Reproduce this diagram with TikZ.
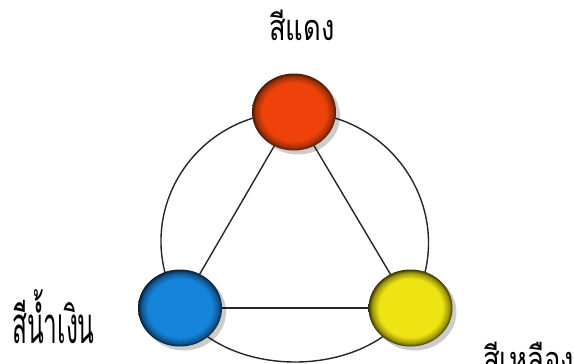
\documentclass[tikz,border=0pt]{standalone}
\usepackage{fontspec}
\usetikzlibrary{shapes.geometric}
\newfontfamily\thaifont[Script=Thai]{Loma}
\definecolor{redmain}{RGB}{238,66,10}
\definecolor{reddark}{RGB}{70,25,5}
\definecolor{bluemain}{RGB}{22,132,218}
\definecolor{bluedark}{RGB}{8,28,50}
\definecolor{yelmain}{RGB}{238,228,20}
\definecolor{yeldark}{RGB}{55,50,0}
\pgfdeclareradialshading{redball}{\pgfpoint{0bp}{0bp}}{color(0bp)=(redmain); color(19bp)=(redmain); color(23bp)=(redmain!55!reddark); color(25bp)=(reddark); color(50bp)=(reddark)}
\pgfdeclareradialshading{blueball}{\pgfpoint{0bp}{0bp}}{color(0bp)=(bluemain); color(19bp)=(bluemain); color(23bp)=(bluemain!55!bluedark); color(25bp)=(bluedark); color(50bp)=(bluedark)}
\pgfdeclareradialshading{yelball}{\pgfpoint{0bp}{0bp}}{color(0bp)=(yelmain); color(19bp)=(yelmain); color(23bp)=(yelmain!55!yeldark); color(25bp)=(yeldark); color(50bp)=(yeldark)}
\pgfdeclarelayer{background}
\pgfsetlayers{background,main}
\begin{document}
\begin{tikzpicture}[x=1pt,y=-1pt,
  link/.style={draw=black!85, line width=1.4pt},
  ball/.style={ellipse, inner sep=0pt, minimum width=84pt, minimum height=77pt,
    preaction={fill=black, fill opacity=0.2, transform canvas={shift={(4pt,-4pt)}}}},
  label/.style={inner sep=0pt, text=black}]
\useasboundingbox (0,0) rectangle (574,364);
\node[ball, shading=redball] (red) at (294,112) {};
\node[ball, shading=blueball] (blue) at (180,308) {};
\node[ball, shading=yelball] (yellow) at (410.5,308) {};
\begin{pgfonlayer}{background}
\fill[white] (0,0) rectangle (574,364);
\draw[link] (red.center) -- (blue.center);
\draw[link] (red.center) -- (yellow.center);
\draw[link] (blue.center) -- (yellow.center);
\draw[link] (red.center) .. controls (191,112) and (127,220) .. (blue.center);
\draw[link] (red.center) .. controls (397,112) and (462,220) .. (yellow.center);
\draw[link] (blue.center) .. controls (225,380) and (365,380) .. (yellow.center);
\end{pgfonlayer}
\node[label, anchor=base, font=\thaifont\fontsize{36}{36}\selectfont] (tred) at (302,40) {\scalebox{0.76}[1]{สีแดง}};
\node[label, anchor=base west, font=\thaifont\fontsize{51}{51}\selectfont] (tblue) at (12,343) {\scalebox{0.48}[1]{สีน้ำเงิน}};
\node[label, anchor=base west, font=\thaifont\fontsize{36}{36}\selectfont] (tyellow) at (483,372) {\scalebox{0.76}[1]{สีเหลือง}};
\end{tikzpicture}
\end{document}
